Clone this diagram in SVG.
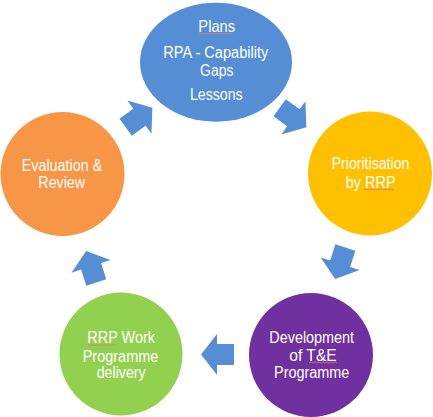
<svg xmlns="http://www.w3.org/2000/svg" width="433" height="417" viewBox="0 0 433 417">
  <style>
    .lbl { font-family: "Liberation Sans", Arial, sans-serif; font-size: 16px; fill: #FFFFFF; text-anchor: middle; }
    .arrow { fill: #558ED5; }
    .squiggle { stroke: #E57373; stroke-width: 1; fill: none; opacity: 0.85; }
  </style>
  <defs>
    <path id="blockArrow" d="M-16.5,-10.5 H0.5 V-20.5 L16.5,0 L0.5,20.5 V10.5 H-16.5 Z"/>
  </defs>
  <rect width="433" height="417" fill="#FFFFFF"/>

  <g id="connectors">
    <use href="#blockArrow" class="arrow" transform="translate(139,117.5) rotate(-36)"/>
    <use href="#blockArrow" class="arrow" transform="translate(293,117.5) rotate(36)"/>
    <use href="#blockArrow" class="arrow" transform="translate(340.3,263.3) rotate(108)"/>
    <use href="#blockArrow" class="arrow" transform="translate(217.5,354.5) rotate(180)"/>
    <use href="#blockArrow" class="arrow" transform="translate(91.2,266.8) rotate(-108)"/>
  </g>

  <g id="node-plans">
    <ellipse cx="216" cy="62.2" rx="76" ry="59.5" fill="#558ED5"/>
    <text class="lbl" x="216.7" y="31.7" textLength="36.7" lengthAdjust="spacingAndGlyphs">Plans</text>
    <text class="lbl" x="215.8" y="58.3" textLength="105" lengthAdjust="spacingAndGlyphs">RPA - Capability</text>
    <text class="lbl" x="216.7" y="76" textLength="33.3" lengthAdjust="spacingAndGlyphs">Gaps</text>
    <text class="lbl" x="216.3" y="100" textLength="52.7" lengthAdjust="spacingAndGlyphs">Lessons</text>
    <path class="squiggle" d="M198.5,34 l2,-1 2,1 2,-1 2,1 2,-1 2,1 2,-1 2,1 2,-1 2,1 2,-1 2,1 2,-1 2,1 2,-1 2,1 2,-1"/>
  </g>

  <g id="node-prioritisation">
    <circle cx="370" cy="173.5" r="62" fill="#FFC000"/>
    <text class="lbl" x="370.5" y="169.3" textLength="77.7" lengthAdjust="spacingAndGlyphs">Prioritisation</text>
    <text class="lbl" x="370.7" y="187.8" textLength="50" lengthAdjust="spacingAndGlyphs">by RRP</text>
    <path class="squiggle" d="M364,190 l2,-1 2,1 2,-1 2,1 2,-1 2,1 2,-1 2,1 2,-1 2,1 2,-1 2,1 2,-1 2,1 2,-1"/>
  </g>

  <g id="node-development">
    <circle cx="311" cy="355" r="62" fill="#7030A0"/>
    <text class="lbl" x="311.7" y="343.3" textLength="84.7" lengthAdjust="spacingAndGlyphs">Development</text>
    <text class="lbl" x="313" y="360.7" textLength="47.4" lengthAdjust="spacingAndGlyphs">of T&amp;E</text>
    <text class="lbl" x="311.7" y="378.3" textLength="75.3" lengthAdjust="spacingAndGlyphs">Programme</text>
    <path class="squiggle" d="M309,363 l2,-1 2,1 2,-1 2,1 2,-1 2,1 2,-1 2,1 2,-1 2,1 2,-1 2,1 2,-1 2,1"/>
  </g>

  <g id="node-delivery">
    <circle cx="121" cy="354" r="61.5" fill="#92D050"/>
    <text class="lbl" x="121.2" y="343.3" textLength="67.7" lengthAdjust="spacingAndGlyphs">RRP Work</text>
    <text class="lbl" x="120.5" y="361.7" textLength="75.6" lengthAdjust="spacingAndGlyphs">Programme</text>
    <text class="lbl" x="121.2" y="377.7" textLength="49" lengthAdjust="spacingAndGlyphs">delivery</text>
    <path class="squiggle" d="M87.5,345.5 l2,-1 2,1 2,-1 2,1 2,-1 2,1 2,-1 2,1 2,-1 2,1 2,-1 2,1 2,-1 2,1"/>
  </g>

  <g id="node-evaluation">
    <circle cx="62.5" cy="174" r="62" fill="#F79646"/>
    <text class="lbl" x="62" y="170.7" textLength="80.7" lengthAdjust="spacingAndGlyphs">Evaluation &amp;</text>
    <text class="lbl" x="61.7" y="188.3" textLength="46.7" lengthAdjust="spacingAndGlyphs">Review</text>
  </g>
</svg>
